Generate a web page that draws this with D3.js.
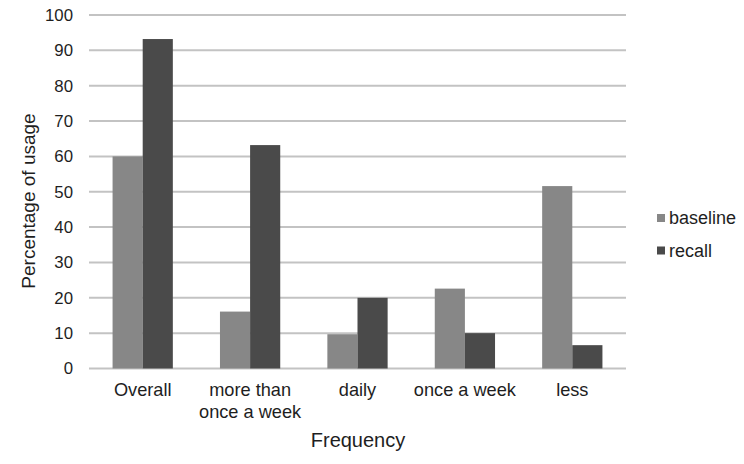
<!DOCTYPE html>
<html><head><meta charset="utf-8">
<script src="https://cdn.jsdelivr.net/npm/d3@7"></script>
<style>body{margin:0;background:#fff;} text{font-family:"Liberation Sans",Arial,sans-serif;fill:#1e1e1e;}</style>
</head><body>
<svg id="c" width="744" height="464"></svg>
<script>
const categories = [["Overall"], ["more than", "once a week"], ["daily"], ["once a week"], ["less"]];
const categoryKeys = ["Overall", "more than once a week", "daily", "once a week", "less"];
const seriesNames = ["baseline", "recall"];
const baseline = [60, 16.1, 9.7, 22.6, 51.6];
const recall = [93.2, 63.2, 20, 10, 6.6];
const yTicks = [0,10,20,30,40,50,60,70,80,90,100];
const colors = ["#878787", "#4a4a4a"];

const svg = d3.select("#c");
const pLeft = 89, pRight = 626, pTop = 15, pBottom = 368.5;
const x = d3.scaleBand().domain(categoryKeys).range([pLeft, pRight]).paddingInner(0).paddingOuter(0);
const y = d3.scaleLinear().domain([0, 100]).range([pBottom, pTop]);
const inner = d3.scaleBand().domain(seriesNames).range([0, x.bandwidth()]).paddingInner(0).paddingOuter(0.782);

// gridlines
svg.append("g").selectAll("line").data(yTicks).join("line")
  .attr("x1", pLeft).attr("x2", pRight)
  .attr("y1", d => y(d)).attr("y2", d => y(d))
  .attr("stroke", "#c3c3c3").attr("stroke-width", 2);

// y tick labels
svg.append("g").selectAll("text").data(yTicks).join("text")
  .attr("x", 73).attr("y", d => y(d)).attr("dy", "0.35em")
  .attr("text-anchor", "end").attr("font-size", 16.8).text(d => d);

// bars
const data = [baseline, recall];
seriesNames.forEach((s, si) => {
  svg.append("g").selectAll("rect").data(categoryKeys).join("rect")
    .attr("x", c => x(c) + inner(s))
    .attr("width", inner.bandwidth())
    .attr("y", (c, i) => y(data[si][i]))
    .attr("height", (c, i) => y(0) - y(data[si][i]))
    .attr("fill", colors[si]);
});

// category labels
categoryKeys.forEach((c, i) => {
  const t = svg.append("text").attr("text-anchor", "middle").attr("font-size", 18.2)
    .attr("x", x(c) + x.bandwidth() / 2).attr("y", 396);
  categories[i].forEach((line, li) => {
    t.append("tspan").attr("x", x(c) + x.bandwidth() / 2).attr("dy", li === 0 ? 0 : 22).text(line);
  });
});

// axis titles
svg.append("text").attr("x", 358).attr("y", 446.5).attr("text-anchor", "middle")
  .attr("font-size", 20).text("Frequency");
svg.append("text").attr("transform", "translate(35,201) rotate(-90)")
  .attr("text-anchor", "middle").attr("font-size", 19).text("Percentage of usage");

// legend
seriesNames.forEach((s, i) => {
  const ly = 218 + i * 32.5;
  svg.append("rect").attr("x", 657).attr("y", ly - 4).attr("width", 8).attr("height", 8).attr("fill", colors[i]);
  svg.append("text").attr("x", 669).attr("y", ly).attr("dy", "0.35em").attr("font-size", 18).text(s);
});
</script>
</body></html>
